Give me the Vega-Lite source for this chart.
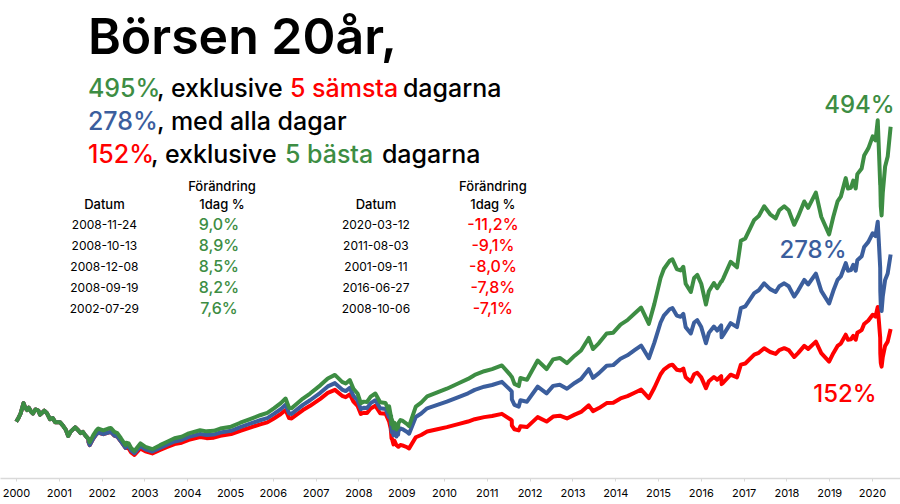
{
  "$schema": "https://vega.github.io/schema/vega-lite/v6.json",
  "width": 900,
  "height": 478,
  "autosize": {"type": "none"},
  "padding": {"left": 0, "top": 0, "right": 0, "bottom": 26},
  "background": "white",
  "config": {"view": {"stroke": null}, "font": "Inter", "text": {"font": "Inter"}},
  "datasets": {
    "blue": [
      {"date":"2000-01-03","value":98},{"date":"2000-01-20","value":103},{"date":"2000-02-10","value":112},{"date":"2000-03-06","value":130},{"date":"2000-03-20","value":122},{"date":"2000-04-05","value":118},{"date":"2000-04-20","value":122},{"date":"2000-05-10","value":115},{"date":"2000-05-25","value":112},{"date":"2000-06-15","value":119},{"date":"2000-07-10","value":117},{"date":"2000-07-25","value":110},{"date":"2000-08-10","value":113},{"date":"2000-08-30","value":117},{"date":"2000-09-20","value":113},{"date":"2000-10-18","value":102},{"date":"2000-11-10","value":104},{"date":"2000-12-01","value":97},{"date":"2001-01-10","value":97},{"date":"2001-02-05","value":91},{"date":"2001-03-01","value":84},{"date":"2001-03-22","value":73},{"date":"2001-04-10","value":80},{"date":"2001-05-20","value":88},{"date":"2001-06-15","value":83},{"date":"2001-07-05","value":78},{"date":"2001-07-25","value":80},{"date":"2001-08-15","value":74},{"date":"2001-09-10","value":68},
      {"date":"2001-09-11","value":62.6},{"date":"2001-09-21","value":57},{"date":"2001-10-22","value":68.6},{"date":"2001-11-15","value":75.4},{"date":"2001-12-04","value":79},{"date":"2002-01-15","value":76},{"date":"2002-02-27","value":79},{"date":"2002-03-20","value":80},{"date":"2002-04-20","value":73.6},{"date":"2002-05-15","value":71.8},{"date":"2002-06-15","value":63.5},{"date":"2002-07-24","value":52.4},
      {"date":"2002-07-29","value":56.4},{"date":"2002-08-20","value":55.2},{"date":"2002-09-10","value":47.8},{"date":"2002-10-08","value":43},{"date":"2002-11-28","value":55.2},{"date":"2003-01-10","value":49.7},{"date":"2003-03-10","value":46},{"date":"2003-05-15","value":52.4},{"date":"2003-07-15","value":58},{"date":"2003-09-15","value":63.5},{"date":"2003-11-15","value":66},{"date":"2004-01-15","value":71.3},{"date":"2004-04-20","value":76.4},{"date":"2004-06-15","value":74.5},{"date":"2004-08-15","value":75.4},{"date":"2004-10-10","value":79},{"date":"2005-01-10","value":82},{"date":"2005-03-30","value":88.3},{"date":"2005-06-15","value":93.8},{"date":"2005-09-15","value":100.3},{"date":"2005-11-15","value":104},{"date":"2006-01-10","value":111.3},{"date":"2006-03-10","value":119.6},{"date":"2006-04-20","value":127},{"date":"2006-05-20","value":112},{"date":"2006-06-10","value":111.3},{"date":"2006-07-15","value":117},{"date":"2006-09-15","value":127},{"date":"2006-11-15","value":135},{"date":"2007-02-10","value":148},{"date":"2007-04-15","value":159},{"date":"2007-06-15","value":164.7},{"date":"2007-08-15","value":153.6},{"date":"2007-09-15","value":151},{"date":"2007-10-20","value":156.4},{"date":"2007-11-20","value":142.6},{"date":"2007-12-25","value":135},{"date":"2008-01-22","value":119.6},{"date":"2008-02-15","value":122},{"date":"2008-03-15","value":121.4},{"date":"2008-04-15","value":130},{"date":"2008-05-25","value":135},{"date":"2008-07-05","value":121},{"date":"2008-08-20","value":120},{"date":"2008-09-18","value":106},
      {"date":"2008-09-19","value":114.7},{"date":"2008-10-03","value":100},{"date":"2008-10-06","value":92.9},{"date":"2008-10-10","value":80},{"date":"2008-10-13","value":87.1},{"date":"2008-10-27","value":74},{"date":"2008-11-04","value":82},{"date":"2008-11-21","value":72},{"date":"2008-11-24","value":78.5},{"date":"2008-12-05","value":75},{"date":"2008-12-08","value":81.4},{"date":"2008-12-25","value":86},{"date":"2009-01-10","value":85},{"date":"2009-02-20","value":80},{"date":"2009-03-09","value":77},{"date":"2009-05-05","value":106},{"date":"2009-06-20","value":112},{"date":"2009-08-10","value":121},{"date":"2009-11-05","value":127},{"date":"2010-01-25","value":132.5},{"date":"2010-05-10","value":141},{"date":"2010-07-25","value":147},{"date":"2010-09-20","value":153},{"date":"2010-12-10","value":158.5},{"date":"2011-02-15","value":161.5},{"date":"2011-05-10","value":167},{"date":"2011-07-20","value":153},{"date":"2011-08-02","value":150},
      {"date":"2011-08-03","value":136.4},{"date":"2011-08-25","value":127},{"date":"2011-10-01","value":124},{"date":"2011-10-15","value":135},{"date":"2011-12-10","value":132.5},{"date":"2012-03-10","value":158.5},{"date":"2012-05-25","value":147},{"date":"2012-07-20","value":160},{"date":"2012-09-15","value":162},{"date":"2012-11-15","value":155},{"date":"2013-01-20","value":165},{"date":"2013-03-15","value":172},{"date":"2013-05-20","value":189},{"date":"2013-06-25","value":174},{"date":"2013-08-15","value":182},{"date":"2013-10-20","value":195},{"date":"2013-12-15","value":196},{"date":"2014-02-15","value":207},{"date":"2014-04-15","value":213},{"date":"2014-06-15","value":222},{"date":"2014-08-10","value":230},{"date":"2014-10-15","value":208},{"date":"2014-12-01","value":235},{"date":"2015-01-23","value":270},{"date":"2015-02-20","value":282},{"date":"2015-04-10","value":293},{"date":"2015-05-04","value":295},{"date":"2015-06-10","value":282},{"date":"2015-07-13","value":280},{"date":"2015-08-05","value":285},{"date":"2015-08-25","value":262},{"date":"2015-10-08","value":251},{"date":"2015-11-05","value":270},{"date":"2015-12-02","value":274},{"date":"2016-01-05","value":262},{"date":"2016-02-14","value":234},{"date":"2016-03-10","value":252},{"date":"2016-04-22","value":263},{"date":"2016-05-20","value":256},{"date":"2016-06-23","value":265},
      {"date":"2016-06-27","value":244.3},{"date":"2016-07-10","value":248},{"date":"2016-09-12","value":269},{"date":"2016-11-05","value":262},{"date":"2016-12-08","value":295},{"date":"2017-01-15","value":298},{"date":"2017-04-01","value":321},{"date":"2017-05-10","value":326},{"date":"2017-06-25","value":338},{"date":"2017-08-15","value":328},{"date":"2017-10-01","value":323},{"date":"2017-11-01","value":333},{"date":"2017-12-13","value":338},{"date":"2018-01-20","value":333},{"date":"2018-03-08","value":315},{"date":"2018-04-10","value":325},{"date":"2018-06-02","value":344},{"date":"2018-07-05","value":336},{"date":"2018-09-09","value":355},{"date":"2018-10-25","value":325},{"date":"2018-12-31","value":303},{"date":"2019-02-05","value":325},{"date":"2019-03-13","value":344},{"date":"2019-04-10","value":350},{"date":"2019-05-22","value":373},{"date":"2019-06-10","value":360},{"date":"2019-07-05","value":361},{"date":"2019-07-25","value":370},{"date":"2019-08-15","value":360},{"date":"2019-08-29","value":378},{"date":"2019-10-05","value":385},{"date":"2019-10-26","value":401},{"date":"2019-12-01","value":410},{"date":"2020-01-07","value":425},{"date":"2020-01-31","value":420},{"date":"2020-02-19","value":445},{"date":"2020-03-02","value":400},{"date":"2020-03-11","value":365},
      {"date":"2020-03-12","value":324},{"date":"2020-03-16","value":300},{"date":"2020-03-23","value":290},{"date":"2020-04-02","value":315},{"date":"2020-04-22","value":344},{"date":"2020-05-14","value":355},{"date":"2020-06-08","value":388}
    ],
    "green": [
      {"date":"2000-01-03","value":98},{"date":"2000-01-20","value":103},{"date":"2000-02-10","value":112},{"date":"2000-03-06","value":130},{"date":"2000-03-20","value":122},{"date":"2000-04-05","value":118},{"date":"2000-04-20","value":122},{"date":"2000-05-10","value":115},{"date":"2000-05-25","value":112},{"date":"2000-06-15","value":119},{"date":"2000-07-10","value":117},{"date":"2000-07-25","value":110},{"date":"2000-08-10","value":113},{"date":"2000-08-30","value":117},{"date":"2000-09-20","value":113},{"date":"2000-10-18","value":102},{"date":"2000-11-10","value":104},{"date":"2000-12-01","value":97},{"date":"2001-01-10","value":97},{"date":"2001-02-05","value":91},{"date":"2001-03-01","value":84},{"date":"2001-03-22","value":73},{"date":"2001-04-10","value":80},{"date":"2001-05-20","value":88},{"date":"2001-06-15","value":83},{"date":"2001-07-05","value":78},{"date":"2001-07-25","value":80},{"date":"2001-08-15","value":74},{"date":"2001-09-10","value":68},
      {"date":"2001-09-11","value":68.0},{"date":"2001-09-21","value":62.0},{"date":"2001-10-22","value":74.6},{"date":"2001-11-15","value":82.0},{"date":"2001-12-04","value":85.9},{"date":"2002-01-15","value":82.6},{"date":"2002-02-27","value":85.9},{"date":"2002-03-20","value":87.0},{"date":"2002-04-20","value":80.0},{"date":"2002-05-15","value":78.0},{"date":"2002-06-15","value":69.0},{"date":"2002-07-24","value":57.0},
      {"date":"2002-07-29","value":61.3},{"date":"2002-08-20","value":60.0},{"date":"2002-09-10","value":52.0},{"date":"2002-10-08","value":46.7},{"date":"2002-11-28","value":60.0},{"date":"2003-01-10","value":54.0},{"date":"2003-03-10","value":50.0},{"date":"2003-05-15","value":57.0},{"date":"2003-07-15","value":63.0},{"date":"2003-09-15","value":69.0},{"date":"2003-11-15","value":71.7},{"date":"2004-01-15","value":77.5},{"date":"2004-04-20","value":83.0},{"date":"2004-06-15","value":81.0},{"date":"2004-08-15","value":82.0},{"date":"2004-10-10","value":85.9},{"date":"2005-01-10","value":89.1},{"date":"2005-03-30","value":96.0},{"date":"2005-06-15","value":102.0},{"date":"2005-09-15","value":109.0},{"date":"2005-11-15","value":113.0},{"date":"2006-01-10","value":121.0},{"date":"2006-03-10","value":130.0},{"date":"2006-04-20","value":138.0},{"date":"2006-05-20","value":121.7},{"date":"2006-06-10","value":121.0},{"date":"2006-07-15","value":127.2},{"date":"2006-09-15","value":138.0},{"date":"2006-11-15","value":146.7},{"date":"2007-02-10","value":160.9},{"date":"2007-04-15","value":172.8},{"date":"2007-06-15","value":179.0},{"date":"2007-08-15","value":167.0},{"date":"2007-09-15","value":164.1},{"date":"2007-10-20","value":170.0},{"date":"2007-11-20","value":155.0},{"date":"2007-12-25","value":146.7},{"date":"2008-01-22","value":130.0},{"date":"2008-02-15","value":132.6},{"date":"2008-03-15","value":132.0},{"date":"2008-04-15","value":141.3},{"date":"2008-05-25","value":146.7},{"date":"2008-07-05","value":131.5},{"date":"2008-08-20","value":130.4},{"date":"2008-09-18","value":115.2},
      {"date":"2008-09-19","value":124.7},{"date":"2008-10-03","value":108.7},{"date":"2008-10-06","value":108.7},{"date":"2008-10-10","value":93.6},{"date":"2008-10-13","value":101.9},{"date":"2008-10-27","value":86.6},{"date":"2008-11-04","value":95.9},{"date":"2008-11-21","value":84.2},{"date":"2008-11-24","value":91.8},{"date":"2008-12-05","value":87.8},{"date":"2008-12-08","value":95.2},{"date":"2008-12-25","value":100.6},{"date":"2009-01-10","value":99.5},{"date":"2009-02-20","value":93.6},{"date":"2009-03-09","value":90.1},{"date":"2009-05-05","value":124.0},{"date":"2009-06-20","value":131.0},{"date":"2009-08-10","value":141.6},{"date":"2009-11-05","value":148.6},{"date":"2010-01-25","value":155.0},{"date":"2010-05-10","value":165.0},{"date":"2010-07-25","value":172.0},{"date":"2010-09-20","value":179.0},{"date":"2010-12-10","value":185.4},{"date":"2011-02-15","value":189.0},{"date":"2011-05-10","value":195.4},{"date":"2011-07-20","value":179.0},{"date":"2011-08-02","value":175.5},
      {"date":"2011-08-03","value":175.5},{"date":"2011-08-25","value":163.4},{"date":"2011-10-01","value":159.6},{"date":"2011-10-15","value":173.7},{"date":"2011-12-10","value":170.5},{"date":"2012-03-10","value":204.0},{"date":"2012-05-25","value":189.2},{"date":"2012-07-20","value":205.9},{"date":"2012-09-15","value":208.5},{"date":"2012-11-15","value":199.5},{"date":"2013-01-20","value":212.4},{"date":"2013-03-15","value":221.4},{"date":"2013-05-20","value":243.2},{"date":"2013-06-25","value":223.9},{"date":"2013-08-15","value":234.2},{"date":"2013-10-20","value":251.0},{"date":"2013-12-15","value":252.3},{"date":"2014-02-15","value":266.4},{"date":"2014-04-15","value":274.1},{"date":"2014-06-15","value":285.7},{"date":"2014-08-10","value":296.0},{"date":"2014-10-15","value":267.7},{"date":"2014-12-01","value":302.4},{"date":"2015-01-23","value":347.5},{"date":"2015-02-20","value":362.9},{"date":"2015-04-10","value":377.1},{"date":"2015-05-04","value":379.7},{"date":"2015-06-10","value":362.9},{"date":"2015-07-13","value":360.4},{"date":"2015-08-05","value":366.8},{"date":"2015-08-25","value":337.2},{"date":"2015-10-08","value":323.0},{"date":"2015-11-05","value":347.5},{"date":"2015-12-02","value":352.6},{"date":"2016-01-05","value":337.2},{"date":"2016-02-14","value":301.2},{"date":"2016-03-10","value":324.3},{"date":"2016-04-22","value":338.5},{"date":"2016-05-20","value":329.5},{"date":"2016-06-23","value":341.1},
      {"date":"2016-06-27","value":341.1},{"date":"2016-07-10","value":346.2},{"date":"2016-09-12","value":375.5},{"date":"2016-11-05","value":365.8},{"date":"2016-12-08","value":411.8},{"date":"2017-01-15","value":416.0},{"date":"2017-04-01","value":448.1},{"date":"2017-05-10","value":455.1},{"date":"2017-06-25","value":471.8},{"date":"2017-08-15","value":457.9},{"date":"2017-10-01","value":450.9},{"date":"2017-11-01","value":464.9},{"date":"2017-12-13","value":471.8},{"date":"2018-01-20","value":464.9},{"date":"2018-03-08","value":439.7},{"date":"2018-04-10","value":453.7},{"date":"2018-06-02","value":480.2},{"date":"2018-07-05","value":469.1},{"date":"2018-09-09","value":495.6},{"date":"2018-10-25","value":453.7},{"date":"2018-12-31","value":423.0},{"date":"2019-02-05","value":453.7},{"date":"2019-03-13","value":480.2},{"date":"2019-04-10","value":488.6},{"date":"2019-05-22","value":520.7},{"date":"2019-06-10","value":502.6},{"date":"2019-07-05","value":504.0},{"date":"2019-07-25","value":516.5},{"date":"2019-08-15","value":502.6},{"date":"2019-08-29","value":527.7},{"date":"2019-10-05","value":537.5},{"date":"2019-10-26","value":559.8},{"date":"2019-12-01","value":572.4},{"date":"2020-01-07","value":593.3},{"date":"2020-01-31","value":586.3},{"date":"2020-02-19","value":621.2},{"date":"2020-03-02","value":558.4},{"date":"2020-03-11","value":509.5},
      {"date":"2020-03-12","value":509.3},{"date":"2020-03-16","value":471.6},{"date":"2020-03-23","value":455.9},{"date":"2020-04-02","value":495.2},{"date":"2020-04-22","value":540.8},{"date":"2020-05-14","value":558.1},{"date":"2020-06-08","value":609.9}
    ],
    "red": [
      {"date":"2000-01-03","value":98},{"date":"2000-01-20","value":103},{"date":"2000-02-10","value":112},{"date":"2000-03-06","value":130},{"date":"2000-03-20","value":122},{"date":"2000-04-05","value":118},{"date":"2000-04-20","value":122},{"date":"2000-05-10","value":115},{"date":"2000-05-25","value":112},{"date":"2000-06-15","value":119},{"date":"2000-07-10","value":117},{"date":"2000-07-25","value":110},{"date":"2000-08-10","value":113},{"date":"2000-08-30","value":117},{"date":"2000-09-20","value":113},{"date":"2000-10-18","value":102},{"date":"2000-11-10","value":104},{"date":"2000-12-01","value":97},{"date":"2001-01-10","value":97},{"date":"2001-02-05","value":91},{"date":"2001-03-01","value":84},{"date":"2001-03-22","value":73},{"date":"2001-04-10","value":80},{"date":"2001-05-20","value":88},{"date":"2001-06-15","value":83},{"date":"2001-07-05","value":78},{"date":"2001-07-25","value":80},{"date":"2001-08-15","value":74},{"date":"2001-09-10","value":68},
      {"date":"2001-09-11","value":62.6},{"date":"2001-09-21","value":57},{"date":"2001-10-22","value":68.6},{"date":"2001-11-15","value":75.4},{"date":"2001-12-04","value":79},{"date":"2002-01-15","value":76},{"date":"2002-02-27","value":79},{"date":"2002-03-20","value":80},{"date":"2002-04-20","value":73.6},{"date":"2002-05-15","value":71.8},{"date":"2002-06-15","value":63.5},{"date":"2002-07-24","value":52.4},
      {"date":"2002-07-29","value":52.4},{"date":"2002-08-20","value":51.3},{"date":"2002-09-10","value":44.4},{"date":"2002-10-08","value":39.9},{"date":"2002-11-28","value":51.3},{"date":"2003-01-10","value":46.2},{"date":"2003-03-10","value":42.7},{"date":"2003-05-15","value":48.7},{"date":"2003-07-15","value":53.9},{"date":"2003-09-15","value":59.0},{"date":"2003-11-15","value":61.3},{"date":"2004-01-15","value":66.2},{"date":"2004-04-20","value":71.0},{"date":"2004-06-15","value":69.2},{"date":"2004-08-15","value":70.0},{"date":"2004-10-10","value":73.4},{"date":"2005-01-10","value":76.2},{"date":"2005-03-30","value":82.0},{"date":"2005-06-15","value":87.1},{"date":"2005-09-15","value":93.2},{"date":"2005-11-15","value":96.6},{"date":"2006-01-10","value":103.4},{"date":"2006-03-10","value":111.1},{"date":"2006-04-20","value":118.0},{"date":"2006-05-20","value":104.0},{"date":"2006-06-10","value":103.4},{"date":"2006-07-15","value":108.7},{"date":"2006-09-15","value":118.0},{"date":"2006-11-15","value":125.4},{"date":"2007-02-10","value":137.5},{"date":"2007-04-15","value":147.7},{"date":"2007-06-15","value":153.0},{"date":"2007-08-15","value":142.7},{"date":"2007-09-15","value":140.3},{"date":"2007-10-20","value":145.3},{"date":"2007-11-20","value":132.5},{"date":"2007-12-25","value":125.4},{"date":"2008-01-22","value":111.1},{"date":"2008-02-15","value":113.3},{"date":"2008-03-15","value":112.8},{"date":"2008-04-15","value":120.8},{"date":"2008-05-25","value":125.4},{"date":"2008-07-05","value":112.4},{"date":"2008-08-20","value":111.5},{"date":"2008-09-18","value":98.5},
      {"date":"2008-09-19","value":98.5},{"date":"2008-10-03","value":85.9},{"date":"2008-10-06","value":79.8},{"date":"2008-10-10","value":68.7},{"date":"2008-10-13","value":68.7},{"date":"2008-10-27","value":58.4},{"date":"2008-11-04","value":64.7},{"date":"2008-11-21","value":56.8},{"date":"2008-11-24","value":56.8},{"date":"2008-12-05","value":54.3},{"date":"2008-12-08","value":54.3},{"date":"2008-12-25","value":57.4},{"date":"2009-01-10","value":56.7},{"date":"2009-02-20","value":53.4},{"date":"2009-03-09","value":51.4},{"date":"2009-05-05","value":70.7},{"date":"2009-06-20","value":74.7},{"date":"2009-08-10","value":80.7},{"date":"2009-11-05","value":84.7},{"date":"2010-01-25","value":88.4},{"date":"2010-05-10","value":94.0},{"date":"2010-07-25","value":98.0},{"date":"2010-09-20","value":102.1},{"date":"2010-12-10","value":105.7},{"date":"2011-02-15","value":107.7},{"date":"2011-05-10","value":111.4},{"date":"2011-07-20","value":102.1},{"date":"2011-08-02","value":100.1},
      {"date":"2011-08-03","value":91.0},{"date":"2011-08-25","value":84.7},{"date":"2011-10-01","value":82.7},{"date":"2011-10-15","value":90.0},{"date":"2011-12-10","value":88.4},{"date":"2012-03-10","value":105.7},{"date":"2012-05-25","value":98.0},{"date":"2012-07-20","value":106.7},{"date":"2012-09-15","value":108.1},{"date":"2012-11-15","value":103.4},{"date":"2013-01-20","value":110.1},{"date":"2013-03-15","value":114.7},{"date":"2013-05-20","value":126.1},{"date":"2013-06-25","value":116.1},{"date":"2013-08-15","value":121.4},{"date":"2013-10-20","value":130.1},{"date":"2013-12-15","value":130.7},{"date":"2014-02-15","value":138.1},{"date":"2014-04-15","value":142.1},{"date":"2014-06-15","value":148.1},{"date":"2014-08-10","value":153.4},{"date":"2014-10-15","value":138.7},{"date":"2014-12-01","value":156.7},{"date":"2015-01-23","value":180.1},{"date":"2015-02-20","value":188.1},{"date":"2015-04-10","value":195.4},{"date":"2015-05-04","value":196.8},{"date":"2015-06-10","value":188.1},{"date":"2015-07-13","value":186.8},{"date":"2015-08-05","value":190.1},{"date":"2015-08-25","value":174.8},{"date":"2015-10-08","value":167.4},{"date":"2015-11-05","value":180.1},{"date":"2015-12-02","value":182.8},{"date":"2016-01-05","value":174.8},{"date":"2016-02-14","value":156.1},{"date":"2016-03-10","value":168.1},{"date":"2016-04-22","value":175.4},{"date":"2016-05-20","value":170.8},{"date":"2016-06-23","value":176.8},
      {"date":"2016-06-27","value":163.0},{"date":"2016-07-10","value":165.4},{"date":"2016-09-12","value":179.4},{"date":"2016-11-05","value":174.8},{"date":"2016-12-08","value":196.8},{"date":"2017-01-15","value":198.8},{"date":"2017-04-01","value":214.1},{"date":"2017-05-10","value":217.4},{"date":"2017-06-25","value":225.4},{"date":"2017-08-15","value":218.8},{"date":"2017-10-01","value":215.4},{"date":"2017-11-01","value":222.1},{"date":"2017-12-13","value":225.4},{"date":"2018-01-20","value":222.1},{"date":"2018-03-08","value":210.1},{"date":"2018-04-10","value":216.8},{"date":"2018-06-02","value":229.4},{"date":"2018-07-05","value":224.1},{"date":"2018-09-09","value":236.8},{"date":"2018-10-25","value":216.8},{"date":"2018-12-31","value":202.1},{"date":"2019-02-05","value":216.8},{"date":"2019-03-13","value":229.4},{"date":"2019-04-10","value":233.5},{"date":"2019-05-22","value":248.8},{"date":"2019-06-10","value":240.1},{"date":"2019-07-05","value":240.8},{"date":"2019-07-25","value":246.8},{"date":"2019-08-15","value":240.1},{"date":"2019-08-29","value":252.1},{"date":"2019-10-05","value":256.8},{"date":"2019-10-26","value":267.5},{"date":"2019-12-01","value":273.5},{"date":"2020-01-07","value":283.5},{"date":"2020-01-31","value":280.1},{"date":"2020-02-19","value":296.8},{"date":"2020-03-02","value":266.8},{"date":"2020-03-11","value":243.5},
      {"date":"2020-03-12","value":216.1},{"date":"2020-03-16","value":200.1},{"date":"2020-03-23","value":193.4},{"date":"2020-04-02","value":210.1},{"date":"2020-04-22","value":229.4},{"date":"2020-05-14","value":236.8},{"date":"2020-06-08","value":258.8}
    ]
  },
  "encoding": {
    "x": {
      "field": "date", "type": "temporal",
      "scale": {"domain": [{"year": 1999, "month": 8, "date": 18}, {"year": 2020, "month": 8, "date": 27}]},
      "axis": {"title": null, "format": "%Y", "tickCount": {"interval": "year", "step": 1}, "labelFlush": false, "labelOverlap": false, "grid": false, "domainColor": "#d9d9d9", "domainWidth": 1.5, "tickColor": "#d9d9d9", "tickSize": 3, "labelFont": "Inter", "labelFontSize": 11, "labelColor": "#000000", "labelPadding": 6}
    },
    "y": {"field": "value", "type": "quantitative", "scale": {"domain": [0, 830], "nice": false, "zero": false}, "axis": null}
  },
  "layer": [
    {"data": {"name": "red"}, "mark": {"type": "line", "color": "#ff0000", "strokeWidth": 4, "strokeJoin": "round"}},
    {"data": {"name": "blue"}, "mark": {"type": "line", "color": "#3b5e9d", "strokeWidth": 4, "strokeJoin": "round"}},
    {"data": {"name": "green"}, "mark": {"type": "line", "color": "#3d8d43", "strokeWidth": 4, "strokeJoin": "round"}},
    {
      "data": {"values": [{"date": "2001-09-06", "value": 736, "label": "Börsen 20år,"}]},
      "mark": {"type": "text", "align": "left", "baseline": "alphabetic", "fontSize": 50, "fontWeight": 600, "color": "#000000", "font": "Inter"},
      "encoding": {"text": {"field": "label"}}
    },
    {
      "data": {"values": [
        {"date": "2003-04-18", "value": 662, "label": ", exklusive"},
        {"date": "2009-01-15", "value": 662, "label": "dagarna"},
        {"date": "2003-04-18", "value": 604.5, "label": ", med alla dagar"},
        {"date": "2003-02-26", "value": 547, "label": ", exklusive"},
        {"date": "2008-07-20", "value": 547, "label": "dagarna"}
      ]},
      "mark": {"type": "text", "align": "left", "baseline": "alphabetic", "fontSize": 25, "fontWeight": 500, "color": "#000000", "font": "Inter"},
      "encoding": {"text": {"field": "label"}}
    },
    {
      "data": {"values": [
        {"date": "2001-09-06", "value": 662, "label": "495%"},
        {"date": "2006-04-14", "value": 547, "label": "5 bästa"}
      ]},
      "mark": {"type": "text", "align": "left", "baseline": "alphabetic", "fontSize": 25, "fontWeight": 500, "color": "#3d8d43", "font": "Inter"},
      "encoding": {"text": {"field": "label"}}
    },
    {
      "data": {"values": [{"date": "2001-09-06", "value": 604.5, "label": "278%"}]},
      "mark": {"type": "text", "align": "left", "baseline": "alphabetic", "fontSize": 25, "fontWeight": 500, "color": "#3b5e9d", "font": "Inter"},
      "encoding": {"text": {"field": "label"}}
    },
    {
      "data": {"values": [
        {"date": "2001-09-06", "value": 547, "label": "152%"},
        {"date": "2006-05-27", "value": 662, "label": "5 sämsta"}
      ]},
      "mark": {"type": "text", "align": "left", "baseline": "alphabetic", "fontSize": 25, "fontWeight": 500, "color": "#ff0000", "font": "Inter"},
      "encoding": {"text": {"field": "label"}}
    },
    {
      "data": {"values": [
        {"date": "2004-10-24", "value": 505, "label": "Förändring"},
        {"date": "2004-10-24", "value": 474, "label": "1dag %"},
        {"date": "2002-01-25", "value": 474, "label": "Datum"},
        {"date": "2011-02-22", "value": 505, "label": "Förändring"},
        {"date": "2011-02-22", "value": 474, "label": "1dag %"},
        {"date": "2008-05-30", "value": 474, "label": "Datum"}
      ]},
      "mark": {"type": "text", "align": "center", "baseline": "middle", "fontSize": 13, "fontWeight": 500, "color": "#000000", "font": "Inter"},
      "encoding": {"text": {"field": "label"}}
    },
    {
      "data": {"values": [
        {"date": "2002-01-25", "value": 439.3, "label": "2008-11-24"},
        {"date": "2002-01-25", "value": 402.8, "label": "2008-10-13"},
        {"date": "2002-01-25", "value": 366.4, "label": "2008-12-08"},
        {"date": "2002-01-25", "value": 329.9, "label": "2008-09-19"},
        {"date": "2002-01-25", "value": 293.5, "label": "2002-07-29"},
        {"date": "2008-05-30", "value": 439.3, "label": "2020-03-12"},
        {"date": "2008-05-30", "value": 402.8, "label": "2011-08-03"},
        {"date": "2008-05-30", "value": 366.4, "label": "2001-09-11"},
        {"date": "2008-05-30", "value": 329.9, "label": "2016-06-27"},
        {"date": "2008-05-30", "value": 293.5, "label": "2008-10-06"}
      ]},
      "mark": {"type": "text", "align": "center", "baseline": "middle", "fontSize": 12, "color": "#000000", "font": "Inter"},
      "encoding": {"text": {"field": "label"}}
    },
    {
      "data": {"values": [
        {"date": "2004-09-28", "value": 439.3, "label": "9,0%"},
        {"date": "2004-09-28", "value": 402.8, "label": "8,9%"},
        {"date": "2004-09-28", "value": 366.4, "label": "8,5%"},
        {"date": "2004-09-28", "value": 329.9, "label": "8,2%"},
        {"date": "2004-09-28", "value": 293.5, "label": "7,6%"}
      ]},
      "mark": {"type": "text", "align": "center", "baseline": "middle", "fontSize": 16, "fontWeight": 500, "color": "#3d8d43", "font": "Inter"},
      "encoding": {"text": {"field": "label"}}
    },
    {
      "data": {"values": [
        {"date": "2011-02-22", "value": 439.3, "label": "-11,2%"},
        {"date": "2011-02-22", "value": 402.8, "label": "-9,1%"},
        {"date": "2011-02-22", "value": 366.4, "label": "-8,0%"},
        {"date": "2011-02-22", "value": 329.9, "label": "-7,8%"},
        {"date": "2011-02-22", "value": 293.5, "label": "-7,1%"}
      ]},
      "mark": {"type": "text", "align": "center", "baseline": "middle", "fontSize": 16, "fontWeight": 500, "color": "#ff0000", "font": "Inter"},
      "encoding": {"text": {"field": "label"}}
    },
    {
      "data": {"values": [{"date": "2019-09-16", "value": 633.8, "label": "494%"}]},
      "mark": {"type": "text", "align": "center", "baseline": "alphabetic", "fontSize": 24, "fontWeight": 500, "color": "#3d8d43", "font": "Inter"},
      "encoding": {"text": {"field": "label"}}
    },
    {
      "data": {"values": [{"date": "2018-08-15", "value": 382, "label": "278%"}]},
      "mark": {"type": "text", "align": "center", "baseline": "alphabetic", "fontSize": 24, "fontWeight": 500, "color": "#3b5e9d", "font": "Inter"},
      "encoding": {"text": {"field": "label"}}
    },
    {
      "data": {"values": [{"date": "2019-05-15", "value": 132.5, "label": "152%"}]},
      "mark": {"type": "text", "align": "center", "baseline": "alphabetic", "fontSize": 24, "fontWeight": 500, "color": "#ff0000", "font": "Inter"},
      "encoding": {"text": {"field": "label"}}
    }
  ]
}
